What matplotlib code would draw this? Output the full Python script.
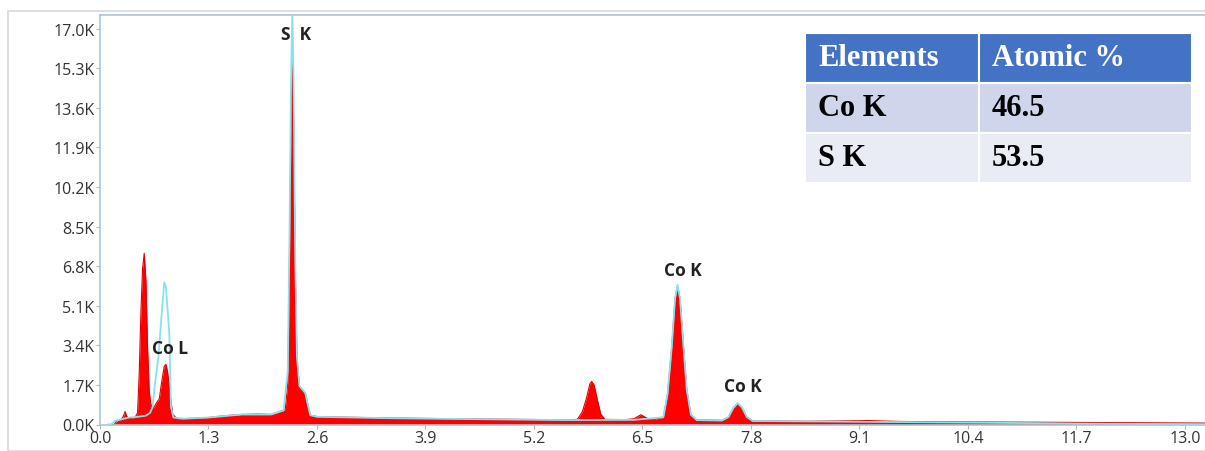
import matplotlib
matplotlib.use("Agg")
import matplotlib.pyplot as plt
from matplotlib.patches import Rectangle

# ---------------- data ----------------
# measured spectrum (red fill): energy (keV) and counts
energy_meas = [0.10, 0.17, 0.20, 0.25, 0.28, 0.30, 0.32, 0.35, 0.42, 0.45, 0.47, 0.49, 0.51, 0.53,
               0.55, 0.57, 0.59, 0.61, 0.64, 0.68, 0.71, 0.74, 0.77, 0.79, 0.81, 0.84, 0.87, 0.92,
               1.00, 1.20, 1.30, 1.50, 1.70, 1.90, 2.05, 2.15, 2.22, 2.25, 2.27, 2.29, 2.305, 2.32,
               2.34, 2.36, 2.39, 2.43, 2.46, 2.49, 2.52, 2.60, 3.00, 3.50, 3.92, 4.50, 5.19, 5.60,
               5.72, 5.78, 5.83, 5.87, 5.89, 5.92, 5.96, 6.00, 6.05, 6.30, 6.40, 6.48, 6.56, 6.65,
               6.75, 6.80, 6.85, 6.89, 6.92, 6.95, 6.99, 7.03, 7.08, 7.15, 7.45, 7.53, 7.59, 7.64,
               7.69, 7.75, 7.82, 8.50, 9.20, 9.60, 10.5, 11.7, 13.3]
counts_meas = [0, 0, 150, 200, 350, 560, 350, 250, 300, 500, 2200, 4800, 6700, 7350,
               6200, 3300, 1400, 850, 700, 950, 1100, 1850, 2500, 2580, 2250, 1300, 450, 250,
               250, 280, 300, 380, 430, 450, 430, 550, 650, 1800, 7000, 13500, 15970, 13000,
               6500, 2800, 1650, 1450, 1350, 850, 400, 340, 310, 280, 260, 240, 215, 200,
               220, 550, 1150, 1750, 1850, 1700, 1050, 450, 220, 210, 250, 420, 260, 220,
               320, 1300, 3300, 5400, 5950, 5400, 3400, 1500, 420, 200, 180, 320, 720, 900,
               740, 320, 160, 140, 170, 130, 110, 90, 60]

# fitted spectrum (cyan line)
energy_fit = [0.10, 0.13, 0.18, 0.25, 0.35, 0.45, 0.55, 0.60, 0.63, 0.66, 0.70, 0.74, 0.77, 0.79,
              0.83, 0.85, 0.88, 1.00, 1.30, 1.70, 2.05, 2.20, 2.25, 2.27, 2.29, 2.305, 2.32, 2.34,
              2.36, 2.39, 2.46, 2.49, 2.52, 2.60, 3.50, 4.50, 5.60, 6.40, 6.75, 6.80, 6.85, 6.89,
              6.92, 6.95, 6.99, 7.03, 7.08, 7.15, 7.45, 7.53, 7.59, 7.64, 7.69, 7.75, 7.82, 9.00,
              10.5, 11.7, 13.3]
counts_fit = [0, 0, 150, 220, 300, 330, 380, 500, 750, 1800, 2900, 4800, 6100, 5900,
              3950, 770, 300, 250, 300, 430, 430, 600, 2300, 8000, 15000, 17800, 14500, 7000,
              2900, 1650, 1350, 850, 400, 330, 270, 230, 190, 200, 310, 1300, 3300, 5400,
              6000, 5400, 3400, 1500, 420, 190, 170, 320, 720, 920, 740, 320, 150, 120,
              80, 40, 10]

# x/y ticks
x_ticks = [0.0, 1.3, 2.6, 3.9, 5.2, 6.5, 7.8, 9.1, 10.4, 11.7, 13.0]
y_ticks = [0, 1700, 3400, 5100, 6800, 8500, 10200, 11900, 13600, 15300, 17000]
y_tick_labels = ["0.0K", "1.7K", "3.4K", "5.1K", "6.8K", "8.5K", "10.2K", "11.9K",
                 "13.6K", "15.3K", "17.0K"]

# peak labels
peak_labels = ["S  K", "Co L", "Co K", "Co K"]
peak_label_x = [2.35, 0.84, 6.985, 7.70]
peak_label_y = [16760, 3280, 6630, 1650]

# composition table
table_header = ["Elements", "Atomic %"]
table_elements = ["Co K", "S K"]
table_atomic = ["46.5", "53.5"]

# ---------------- figure ----------------
W, H = 1205, 452
fig = plt.figure(figsize=(W / 100, H / 100), dpi=100)
fig.patch.set_facecolor("white")

# outer light frame
fig.patches.append(Rectangle((8 / W, 0), 1.2, 1 - 12 / H, transform=fig.transFigure,
                             fill=False, edgecolor="#d3dadd", linewidth=1.2, zorder=0))

ax = fig.add_axes([100 / W, 1 - 425.5 / H, (W - 100) / W, (425.5 - 16) / H])
ax.set_xlim(0, 13.24)
ax.set_ylim(0, 17580)

ax.fill_between(energy_meas, counts_meas, 0, color="#ff0000", linewidth=0, zorder=2)
ax.plot(energy_meas, counts_meas, color="#e00000", linewidth=0.8, zorder=2.5)
ax.plot(energy_fit, counts_fit, color="#86e3ee", linewidth=1.3, zorder=3, clip_on=True)

for s in ["left", "top", "bottom"]:
    ax.spines[s].set_color("#a9c7d6")
    ax.spines[s].set_linewidth(1.2)
ax.spines["right"].set_visible(False)

tick_font = dict(family="Open Sans", size=11.5)
ax.set_xticks(x_ticks)
ax.set_xticklabels([f"{v:.1f}" for v in x_ticks], fontdict=tick_font, color="#333333")
ax.set_yticks(y_ticks)
ax.set_yticklabels(y_tick_labels, fontdict=tick_font, color="#333333")
ax.tick_params(axis="both", length=3, width=0.8, color="#b0b8bc", pad=1)

for lab, lx, ly in zip(peak_labels, peak_label_x, peak_label_y):
    ax.text(lx, ly, lab, ha="center", va="center", family="Open Sans",
            fontweight="bold", fontsize=12.5, color="#222222", zorder=5)

# table drawn in axes coordinates
tx0 = (805 - 100) / (W - 100)
tx_mid = (979 - 100) / (W - 100)
tx1 = (1192 - 100) / (W - 100)
axh = 425.5 - 16
row_tops = [34, 84, 134, 184]
row_colors = ["#4472c4", "#cfd5ea", "#e9ebf5"]
rows = [table_header] + [[e, a] for e, a in zip(table_elements, table_atomic)]
for i, row in enumerate(rows):
    yt = (425.5 - row_tops[i]) / axh
    yb = (425.5 - row_tops[i + 1]) / axh
    for j, (cx0, cx1) in enumerate([(tx0, tx_mid), (tx_mid, tx1)]):
        ax.add_patch(Rectangle((cx0, yb), cx1 - cx0, yt - yb, transform=ax.transAxes,
                               facecolor=row_colors[i], edgecolor="white", linewidth=1.5,
                               zorder=6, clip_on=False))
        ax.text(cx0 + 13 / (W - 100), (yt + yb) / 2, row[j], transform=ax.transAxes,
                ha="left", va="center", family="Liberation Serif", fontweight="bold",
                fontsize=22, color="white" if i == 0 else "black", zorder=7)

fig.savefig("out.png", dpi=100, facecolor="white")
